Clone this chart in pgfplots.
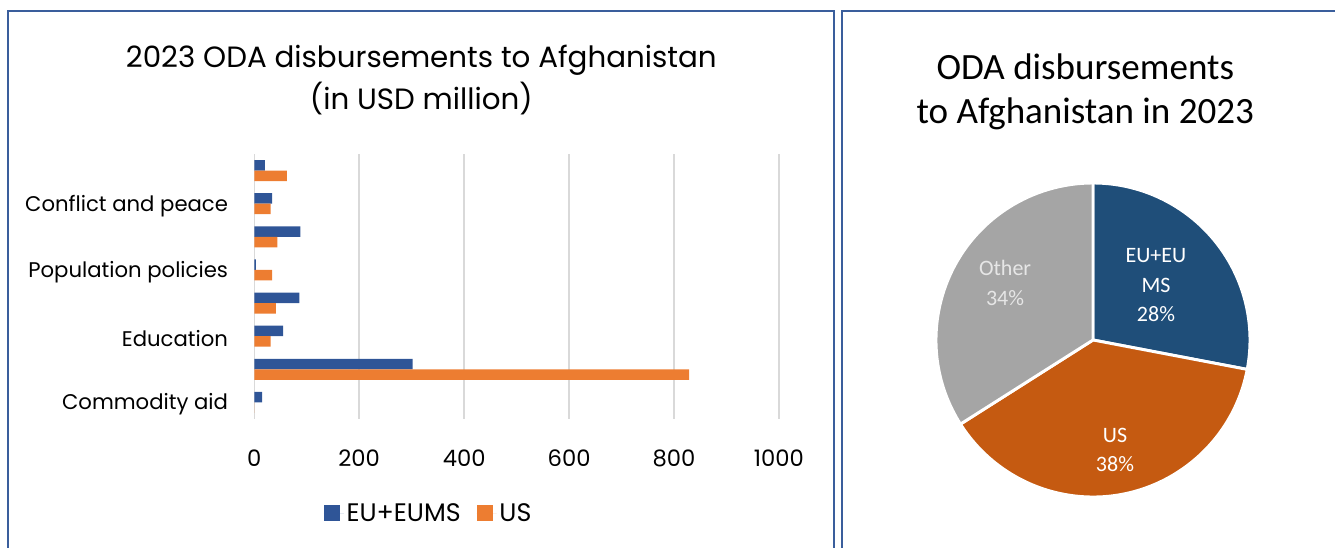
\documentclass[border=0pt]{standalone}
\usepackage{pgfplots}
\pgfplotsset{compat=1.18}
\usepackage{fontspec}
\setmainfont{Poppins}
\newfontfamily\carlito{Carlito}
\definecolor{eubar}{HTML}{2F5597}
\definecolor{usbar}{HTML}{ED7D31}
\definecolor{eupie}{HTML}{1F4E79}
\definecolor{uspie}{HTML}{C55A11}
\definecolor{othpie}{HTML}{A5A5A5}
\definecolor{framec}{HTML}{3A5E9C}
\definecolor{gridc}{HTML}{D9D9D9}
\definecolor{othtext}{HTML}{E6E6E6}
\begin{document}
\begin{tikzpicture}
\useasboundingbox (0,0) rectangle (1001.25pt,411pt);
\draw[framec, line width=1.5pt] (6pt,-10pt) -- (6pt,402.75pt) -- (625.3pt,402.75pt) -- (625.3pt,-10pt);
\draw[framec, line width=1.5pt] (631.3pt,-10pt) -- (631.3pt,402.75pt) -- (1015pt,402.75pt);
\node[font=\fontsize{22}{32}\selectfont, align=center] at (316pt,351pt) {2023 ODA disbursements to Afghanistan\\(in USD million)};
\node[font=\carlito\fontsize{27.8}{33}\selectfont, align=center] at (814pt,342pt) {ODA disbursements\\to Afghanistan in 2023};
\begin{axis}[at={(190.7pt,96.75pt)}, anchor=south west, scale only axis,
  width=393.5pt, height=198.75pt, xbar, xmin=0, xmax=1000, ymin=-0.5, ymax=7.5,
  xtick={0,200,...,1000}, ytick={0,2,4,6},
  yticklabels={Commodity aid, Education, Population policies, Conflict and peace},
  xmajorgrids, grid style={gridc, line width=1.1pt},
  axis line style={draw=none}, major tick length=0pt,
  xticklabel style={font=\fontsize{17}{20}\selectfont, anchor=center, yshift=-29.25pt},
  yticklabel style={font=\fontsize{15.9}{20}\selectfont, anchor=east, inner sep=0pt, xshift=-19.5pt, yshift=-1.5pt},
  /pgf/number format/assume math mode=true, /pgf/number format/1000 sep={},
  bar width=7.9pt,
  legend style={at={(0.333,-0.355)}, anchor=center, draw=none, fill=none,
    legend columns=2, font=\fontsize{19}{22}\selectfont,
    /tikz/every even column/.append style={column sep=10pt}},
  ]
\addplot[fill=eubar, draw=none, bar shift=3.95pt,
  legend image code/.code={\fill[eubar] (0pt,-6pt) rectangle (12pt,6pt); \path (0pt,0pt) -- (15pt,0pt);}]
  coordinates {(15,0) (302,1) (55,2) (86,3) (3,4) (88,5) (34,6) (20,7)};
\addlegendentry{EU+EUMS}
\addplot[fill=usbar, draw=none, bar shift=-3.95pt,
  legend image code/.code={\fill[usbar] (0pt,-6pt) rectangle (12pt,6pt); \path (0pt,0pt) -- (15pt,0pt);}]
  coordinates {(0,0) (829,1) (31,2) (41,3) (34,4) (44,5) (31,6) (62,7)};
\addlegendentry{US}
\end{axis}
\def\pEU{28}\def\pUS{38}\def\pOther{34}
\pgfmathsetmacro\aA{90-3.6*\pEU}
\pgfmathsetmacro\aB{\aA-3.6*\pUS}
\pgfmathsetmacro\aC{\aB-3.6*\pOther}
\begin{axis}[at={(702pt,38.25pt)}, anchor=south west, scale only axis,
  width=235.5pt, height=235.5pt, xmin=-1, xmax=1, ymin=-1, ymax=1,
  hide axis, clip=false]
\fill[eupie, draw=white, line width=2.2pt] (axis cs:0,0) -- (axis cs:0,1) arc[start angle=90, end angle=\aA, radius=117.75pt] -- cycle;
\fill[uspie, draw=white, line width=2.2pt] (axis cs:0,0) -- (axis cs:{cos(\aA)},{sin(\aA)}) arc[start angle=\aA, end angle=\aB, radius=117.75pt] -- cycle;
\fill[othpie, draw=white, line width=2.2pt] (axis cs:0,0) -- (axis cs:{cos(\aB)},{sin(\aB)}) arc[start angle=\aB, end angle=\aC, radius=117.75pt] -- cycle;
\node[font=\carlito\fontsize{16.5}{22}\selectfont, align=center, text=white] at (axis cs:0.401,0.350) {EU+EU\\MS\\28\%};
\node[font=\carlito\fontsize{16.5}{22}\selectfont, align=center, text=othtext] at (axis cs:-0.56,0.363) {Other\\34\%};
\node[font=\carlito\fontsize{16.5}{22}\selectfont, align=center, text=white] at (axis cs:0.14,-0.70) {US\\38\%};
\end{axis}
\end{tikzpicture}
\end{document}
